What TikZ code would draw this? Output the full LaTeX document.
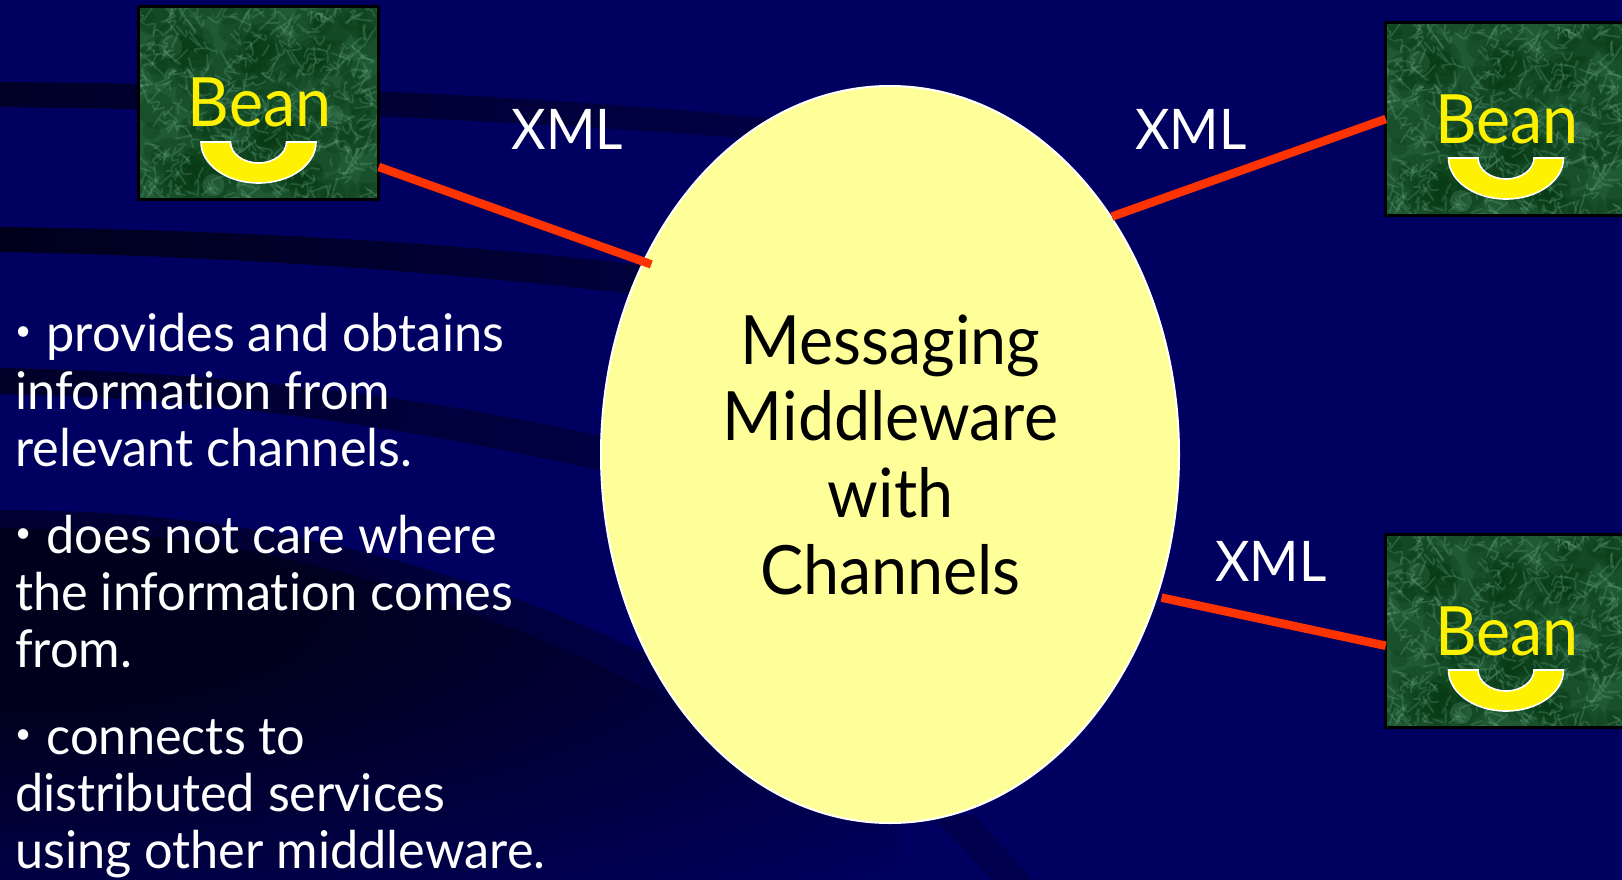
\documentclass[tikz,border=0pt]{standalone}
\usepackage{fontspec}
\setmainfont[Ligatures=NoCommon]{Lato}
\newfontfamily\narrowface[FakeStretch=.95,Ligatures=NoCommon]{Lato}
\newfontfamily\listface[FakeStretch=.97,Ligatures=NoCommon]{Lato}
\usetikzlibrary{shapes.geometric}
\definecolor{navy}{HTML}{000060}
\definecolor{swA}{HTML}{000028}
\definecolor{swB}{HTML}{00003C}
\definecolor{swC}{HTML}{00001C}
\definecolor{swD}{HTML}{000044}
\definecolor{swE}{HTML}{000032}
\definecolor{moon}{HTML}{FFFF99}
\definecolor{wire}{HTML}{FF3300}
\definecolor{grnbase}{HTML}{1F5A35}
\definecolor{grndark}{HTML}{083A14}
\definecolor{grnlight}{HTML}{6FB090}
\pgfdeclareradialshading{darkpool}{\pgfpoint{0bp}{0bp}}{color(0bp)=(swC); color(8bp)=(swC); color(35bp)=(navy); color(100bp)=(navy)}
\pgfdeclareradialshading{lightpool}{\pgfpoint{0bp}{0bp}}{color(0bp)=(swE); color(8bp)=(swE); color(35bp)=(navy); color(100bp)=(navy)}
\newcommand{\beanunit}[3]{%
  \node[beanbox] (#1) at (#2,#3+96) {};
  \begin{scope}
    \clip (#1.south west) rectangle (#1.north east);
    \pgfmathsetseed{4711}
    \foreach \i in {1,...,150}{
      \pgfmathsetmacro{\xa}{#2-120+240*rnd}
      \pgfmathsetmacro{\ya}{#3+192*rnd}
      \pgfmathsetmacro{\ra}{6+14*rnd}
      \fill[grndark,opacity=.3] (\xa,\ya) circle[radius=\ra pt];
    }
    \foreach \i in {1,...,420}{
      \pgfmathsetmacro{\xa}{#2-120+240*rnd}
      \pgfmathsetmacro{\ya}{#3+192*rnd}
      \pgfmathsetmacro{\xb}{\xa+11*rand}
      \pgfmathsetmacro{\yb}{\ya+11*rand}
      \pgfmathsetmacro{\xc}{\xa+14*rand}
      \pgfmathsetmacro{\yc}{\ya+14*rand}
      \draw[grnlight,opacity=.24,line width=1.8pt,line cap=round] (\xa,\ya) .. controls (\xb,\yb) .. (\xc,\yc);
    }
    \fill[grnlight,opacity=.22] ({#2-45},{#3+178}) circle[radius=11pt];
    \fill[grnlight,opacity=.2] ({#2+75},{#3+108}) circle[radius=10pt];
    \fill[grnlight,opacity=.16] ({#2-88},{#3+40}) circle[radius=12pt];
  \end{scope}
  \draw[black,line width=3pt] (#1.south west) rectangle (#1.north east);
  \node[beantext] (#1t) at (#2+1,#3+120) {Bean};
  \draw[smile] ({#2-57.5},{#3+135}) arc[start angle=180,end angle=360,x radius=57.5pt,y radius=41pt]
     -- ({#2+28},{#3+135}) arc[start angle=360,end angle=180,x radius=28pt,y radius=21pt] -- cycle;
}
\newcommand{\smallbullet}{\makebox[31.5pt][l]{\raisebox{.2em}{\scalebox{.55}{•}}}}
\tikzset{
  beanbox/.style={rectangle,fill=grnbase,inner sep=0pt,minimum width=240pt,minimum height=192pt},
  beantext/.style={anchor=base,inner sep=0pt,text=yellow,font=\narrowface\fontsize{68}{68}\selectfont},
  smile/.style={fill=yellow,draw=white,line width=1.6pt},
  midtext/.style={anchor=base,inner sep=0pt,text=black,font=\narrowface\fontsize{68}{68}\selectfont},
  listline/.style={anchor=base west,inner sep=0pt,text=white,font=\listface\fontsize{52}{52}\selectfont},
  xmltext/.style={anchor=base,inner sep=0pt,text=white,font=\narrowface\fontsize{56}{56}\selectfont},
  wireline/.style={wire,line width=8.5pt},
  mwnode/.style={ellipse,fill=moon,draw=white,line width=2pt,inner sep=0pt,minimum width=578pt,minimum height=737pt},
}
\begin{document}
\begin{tikzpicture}[x=1pt,y=-1pt]
\useasboundingbox (0,0) rectangle (1622,880);
\clip (0,0) rectangle (1622,880);
\fill[navy] (0,0) rectangle (1622,880);
% background swooshes
\begin{scope}
  \clip (0,82) .. controls (250,84) and (500,92) .. (790,120) -- (790,142) .. controls (500,118) and (250,110) .. (0,107) -- cycle;
  \shade[left color=swA,right color=swD] (0,70) rectangle (790,150);
\end{scope}
\begin{scope}
  \clip (0,227) .. controls (220,230) and (430,240) .. (650,266) -- (650,296) .. controls (430,270) and (220,256) .. (0,252) -- cycle;
  \shade[left color=swC,right color=swB] (0,220) rectangle (650,300);
\end{scope}
\begin{scope}
  \clip (0,368) .. controls (220,372) and (430,395) .. (640,445) -- (640,480) .. controls (430,430) and (220,398) .. (0,394) -- cycle;
  \shade[left color=swA,right color=swD] (0,360) rectangle (640,490);
\end{scope}
\begin{scope}
  \clip (0,510) .. controls (230,510) and (450,552) .. (700,680) -- (1000,880) -- (0,880) -- cycle;
  \shade[shading=lightpool] (-900,340) rectangle (900,890);
\end{scope}
\begin{scope}
  \clip (0,528) .. controls (200,530) and (420,565) .. (720,725) -- (1000,880) -- (0,880) -- cycle;
  \shade[shading=darkpool] (-900,340) rectangle (900,890);
\end{scope}
\fill[navy!82!black] (930,815) -- (975,815) -- (1032,880) -- (992,880) -- cycle;
% texts and shapes
\node[mwnode] (mw) at (890,454.5) {};
\node[midtext] (m1) at (890.5,364) {Messaging};
\node[midtext] (m2) at (890.5,440.5) {Middleware};
\node[midtext] (m3) at (890.5,517) {with};
\node[midtext] (m4) at (890.5,594) {Channels};
\beanunit{b1}{258.5}{7}
\beanunit{b2}{1506}{23}
\beanunit{b3}{1506}{535}
\draw[wireline,shorten >=-9pt] (b1.-28.4) -- (mw.142);
\draw[wireline] (b2.180) -- (mw.47);
\draw[wireline,shorten >=4pt] (b3.187.1) -- (mw.-28.1);
\node[xmltext] (x1) at (567.5,149.5) {XML};
\node[xmltext] (x2) at (1191,149.5) {XML};
\node[xmltext] (x3) at (1271,581.5) {XML};
\node[listline] (t1) at (15,351) {\smallbullet provides and obtains};
\node[listline] (t2) at (15,409) {information from};
\node[listline] (t3) at (15,466) {relevant channels.};
\node[listline] (t4) at (15,553) {\smallbullet does not care where};
\node[listline] (t5) at (15,610) {the information comes};
\node[listline] (t6) at (15,667) {from.};
\node[listline] (t7) at (15,754) {\smallbullet connects to};
\node[listline] (t8) at (15,811) {distributed services};
\node[listline] (t9) at (15,868) {using other middleware.};
\end{tikzpicture}
\end{document}
